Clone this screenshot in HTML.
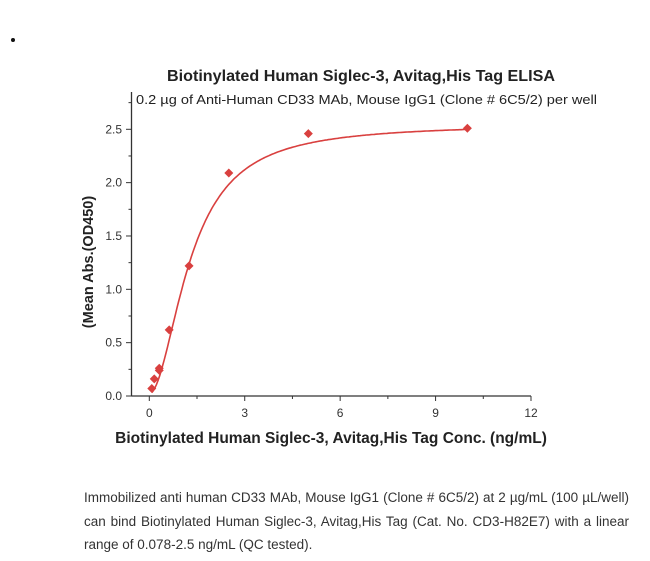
<!DOCTYPE html>
<html><head><meta charset="utf-8"><style>
body{margin:0;background:#fff;width:650px;height:561px;overflow:hidden;font-family:"Liberation Sans",sans-serif;}
svg{position:absolute;left:0;top:0}
.cap{position:absolute;left:84px;width:545px;font-size:13.5px;color:#333;line-height:23.5px;top:486px;text-align:justify;text-align-last:left}
</style></head><body>
<svg width="650" height="561" id="chart">
<circle cx="13" cy="40" r="2" fill="#111"/>
<text x="167" y="81" textLength="388" lengthAdjust="spacingAndGlyphs" font-size="16" font-weight="bold" fill="#222">Biotinylated Human Siglec-3, Avitag,His Tag ELISA</text>
<text x="136" y="104" textLength="461" lengthAdjust="spacingAndGlyphs" font-size="12.5" fill="#222">0.2 µg of Anti-Human CD33 MAb, Mouse IgG1 (Clone # 6C5/2) per well</text>
<text transform="translate(93,262) rotate(-90)" text-anchor="middle" font-size="14.5" font-weight="bold" fill="#222">(Mean Abs.(OD450)</text>
<text x="331" y="443" text-anchor="middle" font-size="15.5" font-weight="bold" fill="#222">Biotinylated Human Siglec-3, Avitag,His Tag Conc. (ng/mL)</text>
<g id="axes"></g><g id="marks"></g>
</svg>
<div class="cap">Immobilized anti human CD33 MAb, Mouse IgG1 (Clone # 6C5/2) at 2 µg/mL (100 µL/well) can bind Biotinylated Human Siglec-3, Avitag,His Tag (Cat. No. CD3-H82E7) with a linear range of 0.078-2.5 ng/mL (QC tested).</div>
<script>
const concentrations=[0.078,0.156,0.313,0.313,0.625,1.25,2.5,5,10];
const absorbance=[0.07,0.16,0.24,0.26,0.62,1.22,2.09,2.46,2.51];
const xTicks=[0,3,6,9,12];
const yTicks=[0,0.5,1.0,1.5,2.0,2.5];
const fitParams=[0.02,1.9,1.3,2.55]; // 4PL: bottom, hill, ec50, top
const NS="http://www.w3.org/2000/svg";
const X=v=>149.3+v*(531-149.3)/12;
const Y=v=>396-v*(396-129.3)/2.5;
const ax=document.getElementById('axes'),mk=document.getElementById('marks');
function el(t,a,p){const e=document.createElementNS(NS,t);for(const k in a)e.setAttribute(k,a[k]);p.appendChild(e);return e;}
let e;
e=el('line',{x1:131.5,y1:396,x2:531,y2:396,stroke:'#333','stroke-width':1.3},ax);


e=el('line',{x1:131.5,y1:92,x2:131.5,y2:396,stroke:'#333','stroke-width':1.3},ax);


xTicks.forEach((t,i)=>{
 el('line',{x1:X(t),y1:396,x2:X(t),y2:401,stroke:'#333'},ax);
 if(i<xTicks.length-1) el('line',{x1:X(t+1.5),y1:396,x2:X(t+1.5),y2:399,stroke:'#333'},ax);
 const tx=el('text',{x:X(t),y:417,'text-anchor':'middle','font-size':12,fill:'#333'},ax);tx.textContent=t;
 
 
});
yTicks.forEach((t,i)=>{
 el('line',{x1:126,y1:Y(t),x2:131.5,y2:Y(t),stroke:'#333'},ax);
 el('line',{x1:128.5,y1:Y(t+0.25),x2:131.5,y2:Y(t+0.25),stroke:'#333'},ax);
 const tx=el('text',{x:122,y:Y(t)+4,'text-anchor':'end','font-size':12,fill:'#333'},ax);tx.textContent=t.toFixed(1);
 
 
});
const [A,B,C,D]=fitParams;
let d='';
for(let i=0;i<=200;i++){const x=0.078+(10-0.078)*i/200;const y=D+(A-D)/(1+Math.pow(x/C,B));d+=(i?'L':'M')+X(x).toFixed(1)+','+Y(y).toFixed(1);}
e=el('path',{d:d,fill:'none',stroke:'#d9403f','stroke-width':1.6},mk);


concentrations.forEach((c,i)=>{
 const x=X(c),y=Y(absorbance[i]);
 const p=el('path',{d:`M${x},${y-4.5}L${x+4.5},${y}L${x},${y+4.5}L${x-4.5},${y}Z`,fill:'#d9403f'},mk);
 
 
});
</script>
</body></html>
